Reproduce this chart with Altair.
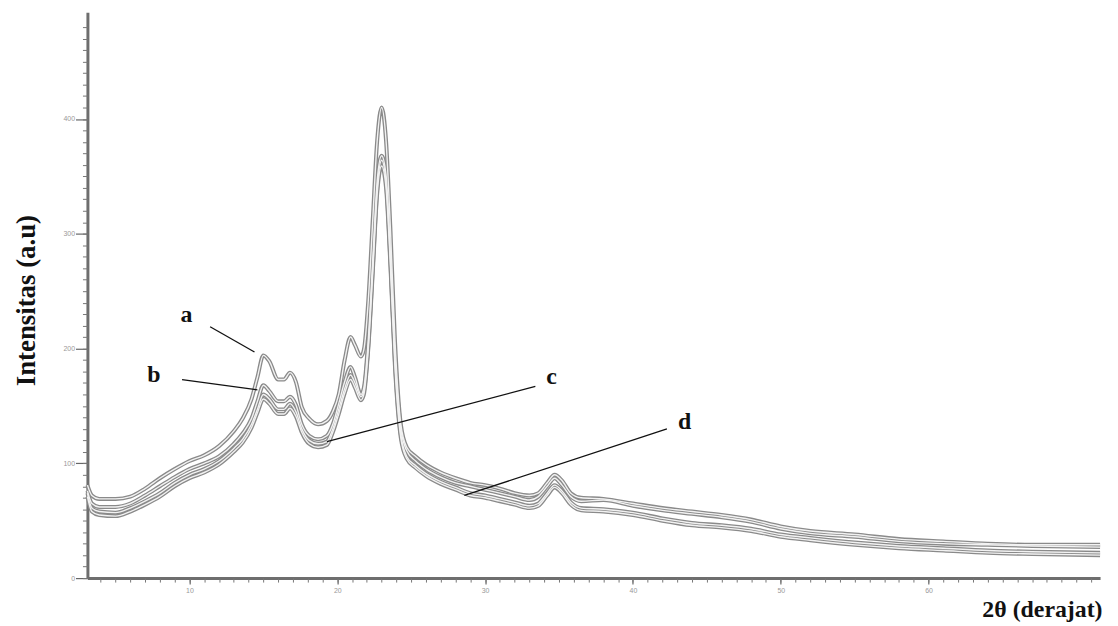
import altair as alt
import pandas as pd

# 2-theta grid (degrees)
two_theta = [3.1, 3.4, 3.9, 5.0, 6.0, 7.0, 8.0, 9.0, 10.0, 11.0,
             12.0, 13.0, 13.6, 14.2, 14.6, 15.0, 15.4, 16.0, 16.4, 16.8,
             17.2, 17.6, 18.1, 18.7, 19.3, 19.7, 20.1, 20.5, 20.9, 21.2,
             21.6, 21.8, 22.1, 22.4, 22.7, 23.0, 23.3, 23.6, 23.9, 24.3,
             24.7, 25.3, 26.0, 27.0, 28.0, 29.0, 30.0, 31.0, 32.0, 33.0,
             33.6, 34.2, 34.7, 35.2, 35.8, 36.5, 38.0, 40.0, 42.0, 44.0,
             46.0, 48.0, 50.0, 52.0, 55.0, 58.0, 61.0, 64.0, 67.0, 71.6]

int_a = [81, 72, 69, 69, 71, 78, 87, 95, 102, 107,
         115, 128, 139, 156, 175, 194, 189, 173, 173, 179,
         171, 149, 139, 134, 137, 145, 160, 190, 210, 203,
         193, 199, 242, 312, 381, 410, 381, 303, 208, 134,
         114, 106, 99, 92, 87, 83, 81, 78, 74, 72,
         74, 83, 90, 85, 74, 70, 69, 65, 61, 58,
         55, 51, 45, 41, 38, 34, 32, 30, 29, 29]

int_b = [76, 65, 62, 62, 65, 72, 80, 88, 95, 100,
         106, 117, 126, 139, 154, 168, 163, 154, 154, 158,
         151, 134, 124, 121, 124, 134, 152, 171, 184, 175,
         160, 166, 208, 277, 346, 368, 351, 281, 195, 130,
         111, 102, 95, 88, 83, 80, 77, 74, 71, 68,
         71, 80, 87, 81, 71, 67, 68, 63, 59, 56,
         53, 49, 43, 39, 36, 32, 30, 29, 28, 27]

int_c = [74, 61, 58, 57, 61, 67, 74, 83, 90, 95,
         102, 113, 121, 134, 147, 160, 156, 147, 147, 152,
         145, 130, 120, 117, 119, 130, 147, 165, 177, 170,
         158, 163, 203, 270, 339, 364, 345, 275, 189, 125,
         106, 98, 91, 84, 79, 74, 72, 69, 66, 63,
         65, 74, 81, 76, 66, 61, 60, 57, 52, 48,
         46, 43, 38, 35, 31, 28, 26, 24, 23, 22]

int_d = [71, 58, 55, 54, 58, 64, 71, 80, 87, 92,
         99, 110, 118, 131, 144, 156, 152, 143, 143, 148,
         141, 127, 117, 114, 116, 127, 143, 161, 173, 166,
         155, 160, 200, 266, 335, 359, 340, 271, 185, 122,
         104, 96, 89, 82, 77, 72, 70, 67, 64, 61,
         63, 72, 79, 74, 64, 59, 58, 55, 50, 46,
         44, 41, 36, 33, 29, 26, 24, 22, 21, 20]

x_ticks = [10, 20, 30, 40, 50, 60]
y_ticks = [0, 100, 200, 300, 400]

label_names = ["a", "b", "c", "d"]
label_x = [9.8, 7.6, 34.5, 43.5]
label_y = [229, 177, 175, 136]

lead_x1 = [11.4, 9.5, 19.3, 28.6]
lead_y1 = [219, 173, 119, 72]
lead_x2 = [14.4, 14.6, 33.4, 42.3]
lead_y2 = [197, 164, 167, 130]

rows = []
for name, vals in zip(label_names, [int_a, int_b, int_c, int_d]):
    for t, v in zip(two_theta, vals):
        rows.append({"deg": t, "I": v, "curve": name})
df = pd.DataFrame(rows)

labels_df = pd.DataFrame({"name": label_names, "x": label_x, "y": label_y})
leads_df = pd.DataFrame({"x1": lead_x1, "y1": lead_y1, "x2": lead_x2, "y2": lead_y2})

xs = alt.Scale(domain=[3.1, 71.6], nice=False, zero=False)
ys = alt.Scale(domain=[0, 493], nice=False, zero=False)

main_x = alt.Axis(values=x_ticks, title="2θ (derajat)", grid=False,
                  labelFontSize=7, labelColor="#999999", labelPadding=3,
                  tickSize=6, tickColor="#666", tickWidth=1.2,
                  domainColor="#6e6e6e", domainWidth=3,
                  titleFont="Liberation Serif", titleFontSize=24, titleFontWeight="bold",
                  titleColor="#111", titleAlign="right", titleBaseline="alphabetic",
                  titleX=1022, titleY=39, orient="bottom")
main_y = alt.Axis(values=y_ticks, title="Intensitas (a.u)", grid=False,
                  labelFontSize=7, labelColor="#999999", labelPadding=1,
                  tickSize=12, tickColor="#666", tickWidth=1.2,
                  domainColor="#6e6e6e", domainWidth=3,
                  titleFont="Liberation Serif", titleFontSize=27, titleFontWeight="bold",
                  titleColor="#111", titleAngle=-90, titleAlign="center",
                  titleBaseline="middle", titleX=-61, titleY=290, orient="left")

minor_x = alt.Axis(values=list(range(4, 72)), labels=False, domain=False, grid=False,
                   tickSize=4, tickColor="#777", title=None, orient="bottom")
minor_y = alt.Axis(values=list(range(0, 490, 10)), labels=False, domain=False, grid=False,
                   tickSize=5, tickColor="#777", title=None, orient="left")

outer = alt.Chart(df).mark_line(color="#8a8a8a", strokeWidth=4, interpolate="monotone").encode(
    x=alt.X("deg:Q", scale=xs, axis=main_x),
    y=alt.Y("I:Q", scale=ys, axis=main_y),
    detail="curve:N",
)
inner = alt.Chart(df).mark_line(color="#f2f2f2", strokeWidth=1.4, interpolate="monotone").encode(
    x=alt.X("deg:Q", scale=xs, axis=minor_x),
    y=alt.Y("I:Q", scale=ys, axis=minor_y),
    detail="curve:N",
)
leaders = alt.Chart(leads_df).mark_rule(color="#111", strokeWidth=1.3).encode(
    x=alt.X("x1:Q", scale=xs, axis=None),
    y=alt.Y("y1:Q", scale=ys, axis=None),
    x2="x2:Q",
    y2="y2:Q",
)
texts = alt.Chart(labels_df).mark_text(font="Liberation Serif", fontWeight="bold",
                                       fontSize=24, color="#111").encode(
    x=alt.X("x:Q", scale=xs, axis=None),
    y=alt.Y("y:Q", scale=ys, axis=None),
    text="name:N",
)

chart = alt.layer(outer, inner, leaders, texts).resolve_axis(
    x="independent", y="independent"
).properties(
    width=1020, height=570,
    padding={"left": 80, "top": 2, "right": 10, "bottom": 46},
    autosize=alt.AutoSizeParams(type="none"),
    background="white",
).configure_view(stroke=None)

chart.save("out.html", embed_options={"renderer": "svg", "actions": False})
